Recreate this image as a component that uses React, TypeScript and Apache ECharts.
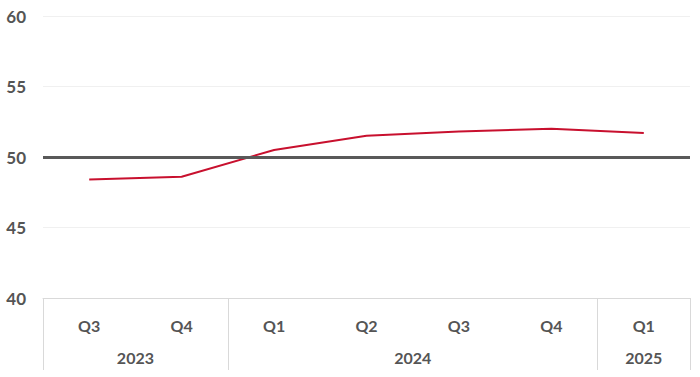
import React, { useEffect, useRef } from "react";
import * as echarts from "echarts";

const quarters = ["Q3", "Q4", "Q1", "Q2", "Q3", "Q4", "Q1"];
const values = [48.4, 48.6, 50.5, 51.5, 51.8, 52.0, 51.7];
const yearLabels = ["2023", "2024", "2025"];
const yearCenters = [1, 4, 6.5];
const yearBounds = [0, 2, 6, 7];
const threshold = 50;

export default function App() {
  const ref = useRef<HTMLDivElement>(null);
  useEffect(() => {
    if (!ref.current) return;
    const chart = echarts.init(ref.current, null, { renderer: "svg" });
    const font = "Lato, 'Open Sans', sans-serif";
    const textColor = "#555555";
    chart.setOption({
      animation: false,
      grid: { left: 43, right: 10, top: 16, bottom: 79 },
      xAxis: [
        {
          type: "category",
          data: quarters,
          boundaryGap: true,
          axisLine: { show: true, lineStyle: { color: "#d9d9d9", width: 1 } },
          axisTick: { show: false },
          axisLabel: {
            color: textColor,
            fontFamily: font,
            fontWeight: "bold",
            fontSize: 16,
            margin: 19,
          },
          splitLine: { show: false },
        },
        {
          type: "value",
          min: 0,
          max: 7,
          position: "bottom",
          axisLine: { show: false },
          splitLine: { show: false },
          axisTick: {
            show: true,
            customValues: yearBounds,
            length: 72,
            lineStyle: { color: "#d9d9d9", width: 1 },
          },
          axisLabel: {
            customValues: yearCenters,
            color: textColor,
            fontFamily: font,
            fontWeight: "bold",
            fontSize: 16,
            margin: 51,
            formatter: (v: number) => {
              const i = yearCenters.indexOf(v);
              return i >= 0 ? yearLabels[i] : "";
            },
          },
        },
      ],
      yAxis: {
        type: "value",
        min: 40,
        max: 60,
        interval: 5,
        axisLine: { show: false },
        axisTick: { show: false },
        axisLabel: {
          color: textColor,
          fontFamily: font,
          fontWeight: "bold",
          fontSize: 17,
          margin: 17,
        },
        splitLine: { lineStyle: { color: "#f0f0f0", width: 1 } },
      },
      series: [
        {
          type: "line",
          data: values,
          xAxisIndex: 0,
          symbol: "none",
          lineStyle: { color: "#c8102e", width: 2 },
          markLine: {
            silent: true,
            symbol: "none",
            label: { show: false },
            lineStyle: { color: "#595959", width: 3, type: "solid" },
            data: [{ yAxis: threshold }],
          },
          z: 3,
        },
      ],
    });
    return () => chart.dispose();
  }, []);
  return (
    <div
      ref={ref}
      style={{ position: "fixed", left: 0, top: 0, width: 700, height: 377, background: "#fff" }}
    />
  );
}
